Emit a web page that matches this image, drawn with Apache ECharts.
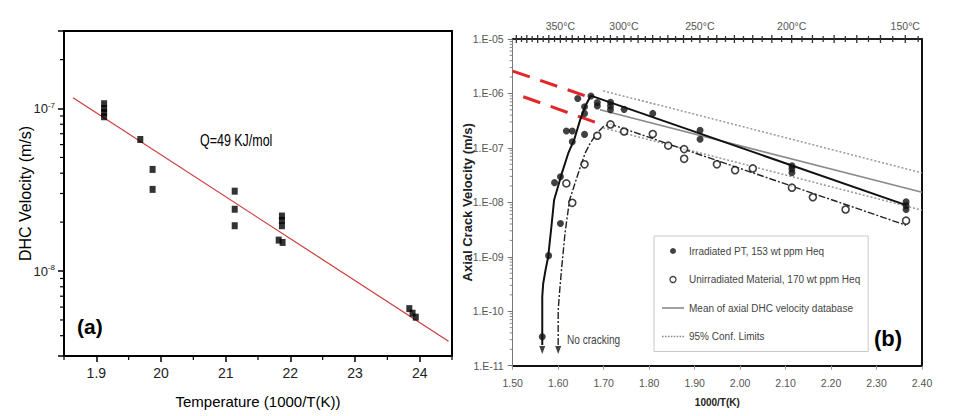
<!DOCTYPE html>
<html><head><meta charset="utf-8">
<script src="https://cdn.jsdelivr.net/npm/echarts@6/dist/echarts.min.js"></script>
<style>html,body{margin:0;padding:0;background:#fff}#c{width:953px;height:416px}</style>
</head><body><div id="c"></div><script>
// ---------- Panel (a) data ----------
const aX = [1.912,1.912,1.912,1.912,1.968,1.987,1.987,2.114,2.114,2.114,2.187,2.187,2.187,2.182,2.188,2.384,2.389,2.394];
const aY = [1.07e-7,1.0e-7,9.45e-8,8.9e-8,6.45e-8,4.22e-8,3.18e-8,3.1e-8,2.4e-8,1.9e-8,2.18e-8,2.05e-8,1.9e-8,1.55e-8,1.5e-8,5.87e-9,5.5e-9,5.2e-9];
const fitAX = [1.864, 2.4446];
const fitAY = [1.164e-7, 3.7e-9];
const xTicksA = [1.9,2.0,2.1,2.2,2.3,2.4];
const xLabelsA = ['1.9','20','21','22','23','24'];
const xMinorA = [1.85,1.95,2.05,2.15,2.25,2.35,2.45];
const yTicksA = [1e-8,1e-7];
const yExpA = ['-8','-7'];
const yMinorA = [4e-9,5e-9,6e-9,7e-9,8e-9,9e-9,2e-8,3e-8,4e-8,5e-8,6e-8,7e-8,8e-8,9e-8,2e-7];

// ---------- Panel (b) data ----------
const irrX = [1.565,1.579,1.592,1.605,1.605,1.618,1.631,1.631,1.643,1.658,1.658,1.658,1.672,1.686,1.686,1.715,1.715,1.715,1.745,1.808,1.912,1.912,2.114,2.114,2.114,2.365,2.365,2.365];
const irrY = [3.4e-11,1.05e-9,2.3e-8,2.95e-8,4.1e-9,2.04e-7,2.04e-7,1.3e-7,8.1e-7,5.7e-7,4.3e-7,1.77e-7,9e-7,5.9e-7,6.8e-7,6.9e-7,5.9e-7,5e-7,5.1e-7,4.3e-7,2.1e-7,1.44e-7,4.7e-8,4.1e-8,3.5e-8,1.02e-8,8.7e-9,7.4e-9];
const unX = [1.618,1.631,1.658,1.686,1.715,1.745,1.808,1.842,1.877,1.877,1.949,1.989,2.028,2.114,2.160,2.232,2.365];
const unY = [2.23e-8,9.8e-9,5e-8,1.67e-7,2.7e-7,2e-7,1.8e-7,1.1e-7,9.5e-8,6.3e-8,5e-8,3.9e-8,4.2e-8,1.86e-8,1.24e-8,7.4e-9,4.6e-9];
const irrCurveX = [1.565,1.565,1.567,1.572,1.578,1.585,1.591,1.608,1.622,1.635,1.648,1.659,1.6715,2.365];
const irrCurveY = [2.4e-11,1.86e-10,3.2e-10,5.6e-10,1e-9,3.5e-9,1.1e-8,3.4e-8,7.9e-8,1.4e-7,3.2e-7,5.75e-7,9.1e-7,8.9e-9];
const unCurveX = [1.600,1.600,1.604,1.608,1.615,1.625,1.644,1.659,1.670,1.685,1.699,1.714,2.365];
const unCurveY = [2.4e-11,1.05e-10,2.8e-10,6.6e-10,2.7e-9,1.1e-8,3.4e-8,7.9e-8,1.2e-7,1.86e-7,2.45e-7,2.75e-7,3.8e-9];
const meanX = [1.692,2.40];
const meanY = [5.0e-7,1.53e-8];
const confUpX = [1.699,2.40];
const confUpY = [1.12e-6,3.47e-8];
const confLoX = [1.699,2.40];
const confLoY = [2.34e-7,7.2e-9];
const redUpX = [1.50,1.666];
const redUpY = [2.57e-6,8.7e-7];
const redLoX = [1.5233,1.692];
const redLoY = [8.7e-7,2.75e-7];
const arrowX = [1.565,1.600];
const arrowY = [1.95e-11,1.95e-11];
const yTicksB = [1e-11,1e-10,1e-9,1e-8,1e-7,1e-6,1e-5];
const yLabelsB = ['1.E-11','1.E-10','1.E-09','1.E-08','1.E-07','1.E-06','1.E-05'];
const yMinorMantB = [2,3,4,5,6,7,8,9];
const yMinorDecB = [1e-11,1e-10,1e-9,1e-8,1e-7,1e-6];
const topTempsC = [350,300,250,200,150];
const topLabels = ['350°C','300°C','250°C','200°C','150°C'];
const topTickTempsC = [390,385,380,375,370,365,360,355,350,345,340,335,330,325,320,315,310,305,300,295,290,285,280,275,270,265,260,255,250,245,240,235,230,225,220,215,210,205,200,195,190,185,180,175,170,165,160,155,150,145];

const SANS = '"Liberation Sans",Arial,sans-serif';
const zip = (xs, ys) => xs.map((x, i) => [x, ys[i]]);
const invT = c => 1000 / (c + 273.15);
const near = (arr, v) => arr.findIndex(t => Math.abs(t - v) < 1e-6 * Math.max(1, Math.abs(t)));
const nearLog = (arr, v) => arr.findIndex(t => Math.abs(Math.log10(t) - Math.log10(v)) < 1e-6);

// tick-mark custom series: pts [x, y, lenOut, lenIn]
function tickSeries(pts, xi, yi, dir, color, width) {
  return {
    type: 'custom', xAxisIndex: xi, yAxisIndex: yi, silent: true, clip: false, z: 5,
    data: pts,
    renderItem: (params, api) => {
      const c = api.coord([api.value(0), api.value(1)]);
      const a = api.value(2), b = api.value(3);
      let shape;
      if (dir === 'left') shape = { x1: c[0] - a, y1: c[1], x2: c[0] + b, y2: c[1] };
      else if (dir === 'down') shape = { x1: c[0], y1: c[1] - b, x2: c[0], y2: c[1] + a };
      else shape = { x1: c[0], y1: c[1] + b, x2: c[0], y2: c[1] - a };
      return { type: 'line', shape, style: { stroke: color, lineWidth: width } };
    }
  };
}

const yMinorB = [];
yMinorDecB.forEach(d => yMinorMantB.forEach(m => yMinorB.push(m * d)));

// legend icon paths (solid and dotted thin bars)
let dotPath = 'path://';
for (let i = 0; i < 22; i += 3) dotPath += 'M' + i + ',0h1.6v1.3h-1.6z';
const solidPath = 'path://M0,0h22v1.6h-22z';

const chart = echarts.init(document.getElementById('c'), null, { renderer: 'svg' });
const option = {
  animation: false,
  backgroundColor: '#fff',
  grid: [
    { left: 64, top: 31, width: 388, height: 325 },
    { left: 512.7, top: 39, width: 409.3, height: 326.7 }
  ],
  xAxis: [
    { type: 'value', gridIndex: 0, position: 'bottom', min: 1.85, max: 2.45,
      name: 'Temperature (1000/T(K))', nameLocation: 'middle', nameGap: 38, nameMoveOverlap: false,
      nameTextStyle: { fontFamily: SANS, fontSize: 15, color: '#000' },
      axisLine: { show: true, onZero: false, lineStyle: { color: '#000', width: 2 } },
      axisTick: { show: true, customValues: xTicksA, length: 6, lineStyle: { color: '#000', width: 1.5 } },
      axisLabel: { customValues: xTicksA, margin: 10, fontFamily: SANS, fontSize: 14, color: '#222',
        formatter: v => { const i = near(xTicksA, v); return i >= 0 ? xLabelsA[i] : ''; } },
      splitLine: { show: false } },
    { type: 'value', gridIndex: 0, position: 'top', min: 1.85, max: 2.45,
      axisLine: { show: true, onZero: false, lineStyle: { color: '#000', width: 2 } },
      axisTick: { show: false }, axisLabel: { show: false }, splitLine: { show: false } },
    { type: 'value', gridIndex: 1, position: 'bottom', min: 1.5, max: 2.4, interval: 0.1,
      name: '1000/T(K)', nameLocation: 'middle', nameGap: 32, nameMoveOverlap: false,
      nameTextStyle: { fontFamily: SANS, fontSize: 10, fontWeight: 'bold', color: '#222' },
      axisLine: { show: true, onZero: false, lineStyle: { color: '#111', width: 2 } },
      axisTick: { show: true, length: 4, lineStyle: { color: '#999' } },
      axisLabel: { margin: 12, fontFamily: SANS, fontSize: 10.5, color: '#555', formatter: v => v.toFixed(2) },
      splitLine: { show: false } },
    { type: 'value', gridIndex: 1, position: 'top', min: 1.5, max: 2.4,
      axisLine: { show: true, onZero: false, lineStyle: { color: '#222', width: 2 } },
      axisTick: { show: false },
      axisLabel: { customValues: topTempsC.map(invT), margin: 8, fontFamily: SANS, fontSize: 10.5, color: '#555',
        formatter: v => { const i = near(topTempsC.map(invT), v); return i >= 0 ? topLabels[i] : ''; } },
      splitLine: { show: false } }
  ],
  yAxis: [
    { type: 'log', gridIndex: 0, position: 'left', min: 3e-9, max: 3e-7,
      name: 'DHC Velocity (m/s)', nameLocation: 'middle', nameGap: 31, nameMoveOverlap: false,
      nameTextStyle: { fontFamily: SANS, fontSize: 16, color: '#000' },
      axisLine: { show: true, onZero: false, lineStyle: { color: '#000', width: 2 } },
      axisTick: { show: true, length: 6, lineStyle: { color: '#000', width: 1.5 } },
      axisLabel: { margin: 9, color: '#222',
        formatter: v => { const i = nearLog(yTicksA, v); return i >= 0 ? '{b|10}{s|' + yExpA[i] + '}' : ''; },
        rich: { b: { fontFamily: SANS, fontSize: 13, color: '#222' },
                s: { fontFamily: SANS, fontSize: 8, color: '#222', verticalAlign: 'bottom', padding: [0, 0, 7, 0] } } },
      splitLine: { show: false } },
    { type: 'log', gridIndex: 0, position: 'right', min: 3e-9, max: 3e-7,
      axisLine: { show: true, onZero: false, lineStyle: { color: '#000', width: 2 } },
      axisTick: { show: false }, axisLabel: { show: false }, splitLine: { show: false } },
    { type: 'log', gridIndex: 1, position: 'left', min: 1e-11, max: 1e-5,
      name: 'Axial Crack Velocity (m/s)', nameLocation: 'middle', nameGap: 39, nameMoveOverlap: false,
      nameTextStyle: { fontFamily: SANS, fontSize: 13, fontWeight: 'bold', color: '#222' },
      axisLine: { show: true, onZero: false, lineStyle: { color: '#777', width: 1 } },
      axisTick: { show: true, length: 5, lineStyle: { color: '#777' } },
      axisLabel: { margin: 9, fontFamily: SANS, fontSize: 10.5, color: '#555',
        formatter: v => { const i = nearLog(yTicksB, v); return i >= 0 ? yLabelsB[i] : ''; } },
      splitLine: { show: false } },
    { type: 'log', gridIndex: 1, position: 'right', min: 1e-11, max: 1e-5,
      axisLine: { show: true, onZero: false, lineStyle: { color: '#111', width: 2 } },
      axisTick: { show: false }, axisLabel: { show: false }, splitLine: { show: false } }
  ],
  legend: {
    data: [
      { name: 'Irradiated PT, 153 wt ppm Heq', icon: 'circle' },
      { name: 'Unirradiated Material, 170 wt ppm Heq', icon: 'circle', itemStyle: { borderWidth: 1.3 } },
      { name: 'Mean of axial DHC velocity database', icon: solidPath },
      { name: '95% Conf. Limits', icon: dotPath }
    ],
    orient: 'vertical', left: 654, top: 236,
    padding: [10, 8, 10, 8], itemGap: 18.5, itemWidth: 22, itemHeight: 6,
    borderColor: '#c8c8c8', borderWidth: 1, backgroundColor: '#fff',
    textStyle: { fontFamily: SANS, fontSize: 10, color: '#444' },
    selectedMode: false
  },
  graphic: [
    { type: 'text', x: 200, y: 140, scaleX: 0.78, style: { text: 'Q=49 KJ/mol', fontFamily: SANS, fontSize: 16, fill: '#000', align: 'left', verticalAlign: 'middle' } },
    { type: 'text', x: 77, y: 326, style: { text: '(a)', fontFamily: SANS, fontSize: 21, fontWeight: 'bold', fill: '#000', align: 'left', verticalAlign: 'middle' } },
    { type: 'text', x: 874, y: 338, style: { text: '(b)', fontFamily: SANS, fontSize: 22, fontWeight: 'bold', fill: '#000', align: 'left', verticalAlign: 'middle' } },
    { type: 'text', x: 567, y: 340, scaleX: 0.84, style: { text: 'No cracking', fontFamily: SANS, fontSize: 12, fill: '#444', align: 'left', verticalAlign: 'middle' } }
  ],
  series: [
    // panel (a)
    { type: 'line', name: 'fitA', xAxisIndex: 0, yAxisIndex: 0, data: zip(fitAX, fitAY), symbol: 'none',
      lineStyle: { color: '#cc3a3a', width: 1.2 }, z: 3 },
    { type: 'scatter', name: 'dataA', xAxisIndex: 0, yAxisIndex: 0, data: zip(aX, aY),
      symbol: 'rect', symbolSize: [6, 7], itemStyle: { color: '#000' }, z: 4 },
    tickSeries(xMinorA.map(x => [x, 3e-9, 4, 0]), 0, 0, 'down', '#000', 1.2),
    tickSeries(yMinorA.map(y => [1.85, y, 4, 0]), 0, 0, 'left', '#000', 1.2),
    // panel (b)
    { type: 'line', name: 'redUp', xAxisIndex: 2, yAxisIndex: 2, data: zip(redUpX, redUpY), symbol: 'none',
      lineStyle: { color: '#e3262a', width: 3, type: [18, 11] }, z: 2 },
    { type: 'line', name: 'redLo', xAxisIndex: 2, yAxisIndex: 2, data: zip(redLoX, redLoY), symbol: 'none',
      lineStyle: { color: '#e3262a', width: 3, type: [18, 11] }, z: 2 },
    { type: 'line', name: '95% Conf. Limits', xAxisIndex: 2, yAxisIndex: 2, data: zip(confUpX, confUpY), symbol: 'none',
      lineStyle: { color: '#888', width: 1.3, type: [2, 2] }, itemStyle: { color: '#888' }, z: 2 },
    { type: 'line', name: '95% Conf. Limits', xAxisIndex: 2, yAxisIndex: 2, data: zip(confLoX, confLoY), symbol: 'none',
      lineStyle: { color: '#888', width: 1.3, type: [2, 2] }, itemStyle: { color: '#888' }, z: 2 },
    { type: 'line', name: 'Mean of axial DHC velocity database', xAxisIndex: 2, yAxisIndex: 2, data: zip(meanX, meanY), symbol: 'none',
      lineStyle: { color: '#8a8a8a', width: 1.6 }, itemStyle: { color: '#8a8a8a' }, z: 2 },
    { type: 'line', name: 'irrCurve', xAxisIndex: 2, yAxisIndex: 2, data: zip(irrCurveX, irrCurveY), symbol: 'none',
      lineStyle: { color: '#111', width: 2 }, z: 3 },
    { type: 'line', name: 'unCurve', xAxisIndex: 2, yAxisIndex: 2, data: zip(unCurveX, unCurveY), symbol: 'none',
      lineStyle: { color: '#222', width: 1.4, type: [7, 2, 2, 2] }, z: 3 },
    { type: 'scatter', name: 'arrows', xAxisIndex: 2, yAxisIndex: 2, data: zip(arrowX, arrowY),
      symbol: 'triangle', symbolRotate: 180, symbolSize: [6, 8], itemStyle: { color: '#111' }, z: 4 },
    { type: 'scatter', name: 'Irradiated PT, 153 wt ppm Heq', xAxisIndex: 2, yAxisIndex: 2, data: zip(irrX, irrY),
      symbol: 'circle', symbolSize: 7, itemStyle: { color: '#111' }, z: 5 },
    { type: 'scatter', name: 'Unirradiated Material, 170 wt ppm Heq', xAxisIndex: 2, yAxisIndex: 2, data: zip(unX, unY),
      symbol: 'circle', symbolSize: 7, itemStyle: { color: '#fff', borderColor: '#111', borderWidth: 1.6 }, z: 5 },
    tickSeries(yMinorB.map(y => [1.5, y, 3, 0]), 2, 2, 'left', '#888', 1),
    tickSeries(topTickTempsC.map(c => [invT(c), 1e-5, c % 10 === 0 ? 4 : 3, c % 10 === 0 ? 4 : 3]), 2, 2, 'up', '#333', 1.3)
  ]
};
chart.setOption(option);
</script></body></html>
